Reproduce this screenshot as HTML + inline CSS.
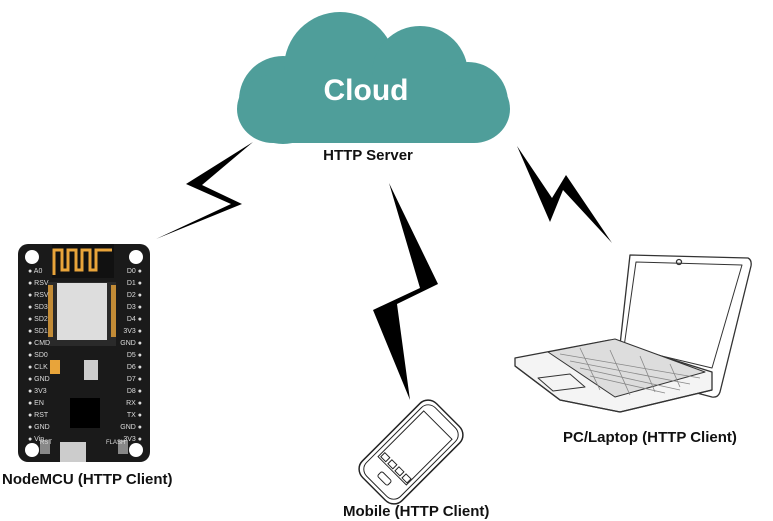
<!DOCTYPE html>
<html><head><meta charset="utf-8"><style>
html,body{margin:0;padding:0;background:#fff;}
svg{display:block;font-family:"Liberation Sans",Arial,sans-serif;}
</style></head><body>
<svg width="773" height="521" viewBox="0 0 773 521">
<!-- Cloud -->
<g fill="#4f9e9a">
<circle cx="283" cy="100" r="44"/>
<circle cx="340" cy="68" r="56"/>
<circle cx="420" cy="74" r="48"/>
<circle cx="468" cy="102" r="40"/>
<rect x="237" y="75" width="273" height="68" rx="36"/>
</g>
<text x="366" y="100" font-size="30" font-weight="bold" fill="#fff" text-anchor="middle">Cloud</text>
<text x="368" y="160" font-size="15" font-weight="bold" fill="#111" text-anchor="middle">HTTP Server</text>

<!-- Bolts -->
<polygon points="253,142 186,184 231,204 156,239 242,204 202,185" fill="#000"/>
<polygon points="389,183 438,284 397,304 410,400 373,310 420,288" fill="#000"/>
<polygon points="517,146 550,222 563,190 612,243 566,175 552,198" fill="#000"/>

<!-- NodeMCU -->
<rect x="18" y="244" width="132" height="218" rx="10" fill="#1a1a1a"/>
<g fill="#fff">
<circle cx="32" cy="257" r="7"/><circle cx="136" cy="257" r="7"/>
<circle cx="32" cy="450" r="7"/><circle cx="136" cy="450" r="7"/>
</g>
<rect x="52" y="244" width="62" height="34" fill="#111"/>
<path d="M54,275 V250 H62 V270 H68 V250 H76 V270 H82 V250 H90 V270 H96 V250 H112" stroke="#e8a43a" stroke-width="3" fill="none"/>
<rect x="48" y="282" width="68" height="64" fill="#2a2a2a"/>
<rect x="57" y="283" width="50" height="57" fill="#ddd"/>
<g fill="#e8a43a">
<rect x="48" y="285" width="5" height="52" opacity=".8"/>
<rect x="111" y="285" width="5" height="52" opacity=".8"/>
</g>
<rect x="50" y="360" width="10" height="14" fill="#e8a43a"/>
<rect x="84" y="360" width="14" height="20" fill="#ccc"/>
<rect x="70" y="398" width="30" height="30" fill="#000"/>
<rect x="60" y="442" width="26" height="20" fill="#ccc"/>
<rect x="40" y="440" width="10" height="14" fill="#888"/>
<rect x="118" y="440" width="10" height="14" fill="#888"/>
<g font-size="7" fill="#ddd">
<text x="28" y="273">● A0</text><text x="28" y="285">● RSV</text><text x="28" y="297">● RSV</text>
<text x="28" y="309">● SD3</text><text x="28" y="321">● SD2</text><text x="28" y="333">● SD1</text>
<text x="28" y="345">● CMD</text><text x="28" y="357">● SD0</text><text x="28" y="369">● CLK</text>
<text x="28" y="381">● GND</text><text x="28" y="393">● 3V3</text><text x="28" y="405">● EN</text>
<text x="28" y="417">● RST</text><text x="28" y="429">● GND</text><text x="28" y="441">● Vin</text>
<text x="142" y="273" text-anchor="end">D0 ●</text><text x="142" y="285" text-anchor="end">D1 ●</text>
<text x="142" y="297" text-anchor="end">D2 ●</text><text x="142" y="309" text-anchor="end">D3 ●</text>
<text x="142" y="321" text-anchor="end">D4 ●</text><text x="142" y="333" text-anchor="end">3V3 ●</text>
<text x="142" y="345" text-anchor="end">GND ●</text><text x="142" y="357" text-anchor="end">D5 ●</text>
<text x="142" y="369" text-anchor="end">D6 ●</text><text x="142" y="381" text-anchor="end">D7 ●</text>
<text x="142" y="393" text-anchor="end">D8 ●</text><text x="142" y="405" text-anchor="end">RX ●</text>
<text x="142" y="417" text-anchor="end">TX ●</text><text x="142" y="429" text-anchor="end">GND ●</text>
<text x="142" y="441" text-anchor="end">3V3 ●</text>
<text x="40" y="444" font-size="6">RST</text><text x="106" y="444" font-size="6">FLASH</text>
</g>
<text x="2" y="484" font-size="15" font-weight="bold" fill="#111">NodeMCU (HTTP Client)</text>

<!-- Phone -->
<g transform="translate(411,452) rotate(45) scale(1,0.95)" fill="none" stroke="#222" stroke-width="1.5">
<rect x="-28" y="-55" width="56" height="110" rx="12"/>
<rect x="-24" y="-51" width="48" height="102" rx="10" stroke-width="1"/>
<rect x="-20" y="-40" width="40" height="68" stroke-width="1"/>
<rect x="-7" y="36" width="14" height="7" rx="2" stroke-width="1"/>
<g stroke-width="1"><rect x="-18" y="20" width="7" height="6"/><rect x="-8" y="20" width="7" height="6"/><rect x="2" y="20" width="7" height="6"/><rect x="12" y="20" width="7" height="6"/></g>
</g>
<text x="343" y="516" font-size="15" font-weight="bold" fill="#111">Mobile (HTTP Client)</text>

<!-- Laptop -->
<g fill="none" stroke="#333" stroke-width="1.3" stroke-linejoin="round">
<path d="M630,255 L748,258 Q752,260 751,266 L720,392 Q718,398 712,397 L617,372 Z"/>
<path d="M636,262 L742,265 L712,368 L624,347 Z" stroke-width="1"/>
<path d="M515,358 L610,340 L712,372 L712,390 L620,412 L560,400 L515,366 Z" fill="#f4f4f4"/>
<path d="M515,366 L560,400 L620,412 L712,390"/>
<path d="M548,352 L615,339 L705,372 L615,397 Z" fill="#ddd" stroke-width="1"/>
<path d="M538,378 L570,374 L585,387 L553,391 Z" stroke-width="1"/>
<circle cx="679" cy="262" r="2.5"/>
</g>
<g stroke="#888" stroke-width="0.8">
<line x1="560" y1="354" x2="700" y2="378"/><line x1="570" y1="361" x2="690" y2="384"/>
<line x1="580" y1="368" x2="680" y2="390"/><line x1="590" y1="376" x2="665" y2="393"/>
<line x1="580" y1="348" x2="600" y2="390"/><line x1="610" y1="350" x2="630" y2="395"/>
<line x1="640" y1="356" x2="655" y2="392"/><line x1="670" y1="364" x2="680" y2="387"/>
</g>
<text x="563" y="442" font-size="15" font-weight="bold" fill="#111">PC/Laptop (HTTP Client)</text>
</svg>
</body></html>
